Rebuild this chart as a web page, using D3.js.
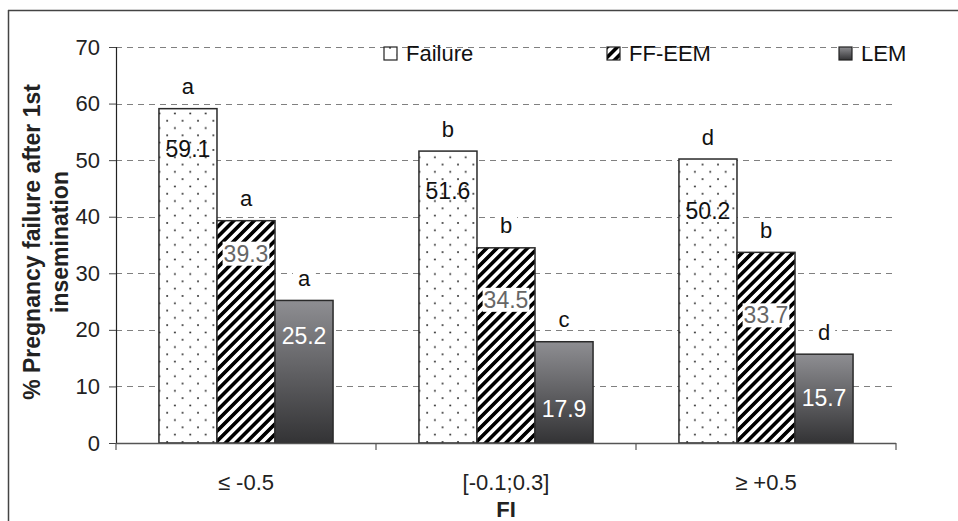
<!DOCTYPE html>
<html>
<head>
<meta charset="utf-8">
<script src="https://cdn.jsdelivr.net/npm/d3@7"></script>
<style>
  html, body { margin: 0; padding: 0; background: #fff; }
  svg { display: block; font-family: "Liberation Sans", Arial, Helvetica, sans-serif; }
</style>
</head>
<body>
<svg id="chart" width="958" height="521"></svg>
<script>
// ---- data ----
const categories = ["≤ -0.5", "[-0.1;0.3]", "≥ +0.5"];
const seriesNames = ["Failure", "FF-EEM", "LEM"];
const failureValues = [59.1, 51.6, 50.2];
const ffeemValues = [39.3, 34.5, 33.7];
const lemValues = [25.2, 17.9, 15.7];
const failureLetters = ["a", "b", "d"];
const ffeemLetters = ["a", "b", "b"];
const lemLetters = ["a", "c", "d"];
const yTicks = [0, 10, 20, 30, 40, 50, 60, 70];
const yTitleLines = ["% Pregnancy failure after 1st", "insemination"];
const xTitle = "FI";

// ---- layout / style ----
const W = 958, H = 521;
const plot = { left: 116, right: 896, top: 47, bottom: 443 };
// pixel offsets of in-bar value labels (below bar top), per series / category
const valueLabelOffsets = [[40, 40, 52], [33, 52, 63], [36, 67, 44]];
const letterOffset = 22;

const seriesValues = [failureValues, ffeemValues, lemValues];
const seriesLetters = [failureLetters, ffeemLetters, lemLetters];

const svg = d3.select("#chart");
const defs = svg.append("defs");

// dotted pattern
const dots = defs.append("pattern").attr("id", "dots").attr("patternUnits", "userSpaceOnUse")
  .attr("width", 15.4).attr("height", 14.6).attr("x", 3).attr("y", 2);
dots.append("rect").attr("width", 15.4).attr("height", 14.6).attr("fill", "#fff");
dots.append("circle").attr("cx", 2).attr("cy", 2).attr("r", 0.95).attr("fill", "#222");
dots.append("circle").attr("cx", 9.7).attr("cy", 9.3).attr("r", 0.95).attr("fill", "#222");

// diagonal stripes
const stripes = defs.append("pattern").attr("id", "stripes").attr("patternUnits", "userSpaceOnUse")
  .attr("width", 7.2).attr("height", 7.2).attr("patternTransform", "rotate(45)");
stripes.append("rect").attr("width", 7.2).attr("height", 7.2).attr("fill", "#fff");
stripes.append("rect").attr("x", 0).attr("width", 3.6).attr("height", 7.2).attr("fill", "#000");

// LEM gradient
const grad = defs.append("linearGradient").attr("id", "lemGrad").attr("x1", 0).attr("y1", 0).attr("x2", 0).attr("y2", 1);
grad.append("stop").attr("offset", "0%").attr("stop-color", "#8e8e92");
grad.append("stop").attr("offset", "100%").attr("stop-color", "#333335");

const fills = ["url(#dots)", "url(#stripes)", "url(#lemGrad)"];
const labelColors = ["#111", "#666", "#fff"];
const labelBg = [false, true, false];

// frame
svg.append("line").attr("x1", 8).attr("x2", W).attr("y1", 10.5).attr("y2", 10.5).attr("stroke", "#444").attr("stroke-width", 1.5);
svg.append("line").attr("x1", 8.5).attr("x2", 8.5).attr("y1", 10).attr("y2", H).attr("stroke", "#444").attr("stroke-width", 1.5);

// scales
const y = d3.scaleLinear().domain([0, 70]).range([plot.bottom, plot.top]);
const x0 = d3.scaleBand().domain(categories).range([plot.left, plot.right]).paddingInner(0).paddingOuter(0);
const x1 = d3.scaleBand().domain(seriesNames).range([0, x0.bandwidth()]).paddingInner(0).paddingOuter(0.74);

// gridlines
svg.append("g").selectAll("line").data(yTicks.filter(t => t > 0)).join("line")
  .attr("x1", plot.left).attr("x2", plot.right)
  .attr("y1", d => Math.round(y(d)) + 0.5).attr("y2", d => Math.round(y(d)) + 0.5)
  .attr("stroke", "#808080").attr("stroke-width", 1.2).attr("stroke-dasharray", "6,5");

// y axis
const yAxis = svg.append("g").attr("transform", `translate(${plot.left},0)`)
  .call(d3.axisLeft(y).tickValues(yTicks).tickSize(7).tickPadding(9).tickFormat(d3.format("d")));
yAxis.select(".domain").attr("stroke", "#222").attr("stroke-width", 1.2).attr("d", `M0.5,${plot.top}V${plot.bottom}`);
yAxis.selectAll(".tick line").attr("stroke", "#444");
yAxis.selectAll(".tick text").attr("font-size", 22).attr("fill", "#222").style("font-family", "Liberation Sans, Arial, sans-serif");

// bars
const groups = svg.append("g").selectAll("g").data(categories).join("g")
  .attr("transform", d => `translate(${x0(d)},0)`);

seriesNames.forEach((s, si) => {
  groups.append("rect")
    .attr("x", (c, ci) => x1(s))
    .attr("y", (c, ci) => y(seriesValues[si][ci]))
    .attr("width", x1.bandwidth())
    .attr("height", (c, ci) => y(0) - y(seriesValues[si][ci]))
    .attr("fill", fills[si])
    .attr("stroke", "#2a2a2a").attr("stroke-width", 1.5);
});

// x axis
const xAxis = svg.append("g").attr("transform", `translate(0,${plot.bottom})`);
xAxis.append("line").attr("x1", plot.left).attr("x2", plot.right).attr("y1", 0.5).attr("y2", 0.5).attr("stroke", "#555").attr("stroke-width", 1.3);
const boundaries = categories.map(c => x0(c)).concat([x0(categories[categories.length - 1]) + x0.bandwidth()]);
xAxis.selectAll("line.tk").data(boundaries).join("line").attr("class", "tk")
  .attr("x1", d => d).attr("x2", d => d).attr("y1", 0).attr("y2", 7).attr("stroke", "#555").attr("stroke-width", 1.2);
xAxis.selectAll("text").data(categories).join("text")
  .attr("x", d => x0(d) + x0.bandwidth() / 2).attr("y", 47)
  .attr("text-anchor", "middle").attr("font-size", 22).attr("fill", "#222").text(d => d);

// value labels and letters
seriesNames.forEach((s, si) => {
  categories.forEach((c, ci) => {
    const v = seriesValues[si][ci];
    const cx = x0(c) + x1(s) + x1.bandwidth() / 2;
    const ty = y(v) + valueLabelOffsets[si][ci];
    const t = svg.append("text").attr("x", cx).attr("y", ty).attr("text-anchor", "middle")
      .attr("dominant-baseline", "central").attr("font-size", 23).attr("fill", labelColors[si]).text(v.toFixed(1));
    if (labelBg[si]) {
      const bb = t.node().getBBox();
      svg.insert("rect", () => t.node()).attr("x", bb.x - 1).attr("y", bb.y + 1).attr("width", bb.width + 2).attr("height", bb.height - 2).attr("fill", "#fff");
    }
    const ly = y(v) - letterOffset;
    const lt = svg.append("text").attr("x", cx).attr("y", ly).attr("text-anchor", "middle")
      .attr("dominant-baseline", "central").attr("font-size", 22).attr("fill", "#111").text(seriesLetters[si][ci]);
    const lb = lt.node().getBBox();
    svg.insert("rect", () => lt.node()).attr("x", lb.x - 5).attr("y", lb.y + 3).attr("width", lb.width + 10).attr("height", lb.height - 6).attr("fill", "#fff");
  });
});

// legend
const legendX = [384, 607, 839];
const legend = svg.append("g");
seriesNames.forEach((s, si) => {
  legend.append("rect").attr("x", legendX[si]).attr("y", 47).attr("width", 13).attr("height", 13)
    .attr("fill", fills[si]).attr("stroke", "#222").attr("stroke-width", 1.2);
  legend.append("text").attr("x", legendX[si] + 22).attr("y", 61).attr("font-size", 22).attr("fill", "#111").text(s);
});

// axis titles
const yt = svg.append("text").attr("transform", `translate(54,242) rotate(-90)`)
  .attr("text-anchor", "middle").attr("font-size", 23).attr("font-weight", "bold").attr("fill", "#222");
yt.append("tspan").attr("x", 0).attr("dy", "-0.6em").text(yTitleLines[0]);
yt.append("tspan").attr("x", 0).attr("dy", "1.2em").text(yTitleLines[1]);

svg.append("text").attr("x", x0(categories[1]) + x0.bandwidth() / 2).attr("y", 517)
  .attr("text-anchor", "middle").attr("font-size", 22).attr("font-weight", "bold").attr("fill", "#222").text(xTitle);
</script>
</body>
</html>
